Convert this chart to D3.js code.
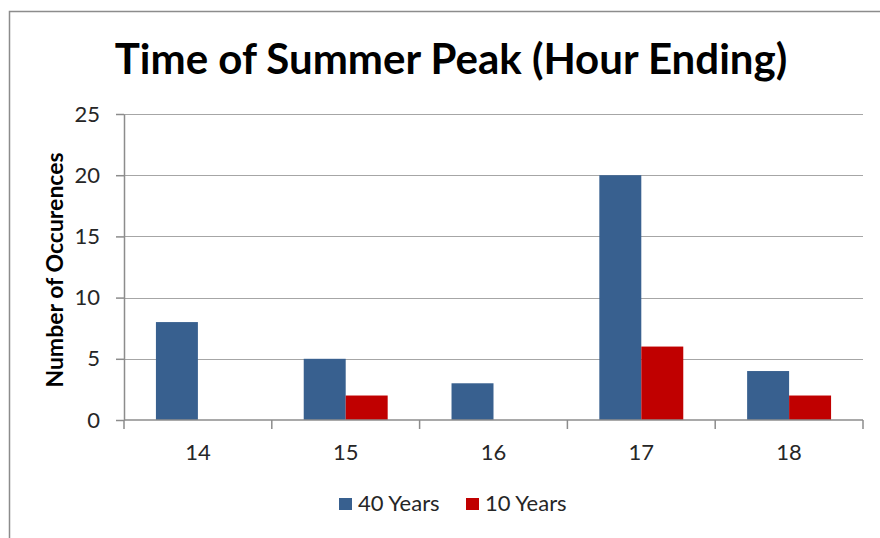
<!DOCTYPE html>
<html>
<head>
<meta charset="utf-8">
<script src="https://cdn.jsdelivr.net/npm/d3@7"></script>
<style>
  body { margin: 0; background: #fff; }
  svg { display: block; font-family: Lato, "Open Sans", sans-serif; }
</style>
</head>
<body>
<div id="chart"></div>
<script>
const CATEGORIES = ["14", "15", "16", "17", "18"]
const SERIES = ["40 Years", "10 Years"]
const YEARS_40 = [8, 5, 3, 20, 4]
const YEARS_10 = [0, 2, 0, 6, 2]
const Y_TICKS = [0, 5, 10, 15, 20, 25]
const COLORS = ["#38608f", "#c00000"]

const W = 880, H = 538
const margin = {top: 114, right: 17, bottom: 118, left: 124}
const width = W - margin.left - margin.right
const height = H - margin.top - margin.bottom

const data = CATEGORIES.map((c, i) => ({cat: c, values: [YEARS_40[i], YEARS_10[i]]}))

const svg = d3.select("#chart").append("svg")
    .attr("width", W)
    .attr("height", H)

// outer frame (cropped on right / bottom like the picture)
svg.append("path")
    .attr("d", "M9.5," + (H + 2) + "V11.5H" + (W + 2))
    .attr("fill", "none")
    .attr("stroke", "#8c8c8c")
    .attr("stroke-width", 1.5)

svg.append("text")
    .attr("x", 451)
    .attr("y", 74)
    .attr("text-anchor", "middle")
    .attr("font-size", 42)
    .attr("font-weight", "bold")
    .attr("fill", "#000")
    .text("Time of Summer Peak (Hour Ending)")

const g = svg.append("g")
    .attr("transform", "translate(" + margin.left + "," + margin.top + ")")

const x0 = d3.scaleBand()
    .domain(CATEGORIES)
    .range([0, width])
    .paddingInner(0.432)
    .paddingOuter(0.216)

const x1 = d3.scaleBand()
    .domain(SERIES)
    .range([0, x0.bandwidth()])

const y = d3.scaleLinear()
    .domain([0, 25])
    .range([height, 0])

// gridlines
g.append("g")
    .selectAll("line")
    .data(Y_TICKS.filter(d => d > 0))
    .enter()
    .append("line")
    .attr("x1", 0)
    .attr("x2", width)
    .attr("y1", d => Math.round(y(d)) + 0.5)
    .attr("y2", d => Math.round(y(d)) + 0.5)
    .attr("stroke", "#a6a6a6")
    .attr("stroke-width", 1.2)

// bars
g.selectAll(".group")
    .data(data)
    .enter()
    .append("g")
    .attr("transform", d => "translate(" + x0(d.cat) + ",0)")
    .selectAll("rect")
    .data(d => d.values.map((v, i) => ({key: SERIES[i], v: v, i: i})))
    .enter()
    .append("rect")
    .attr("x", d => x1(d.key))
    .attr("y", d => y(d.v))
    .attr("width", x1.bandwidth())
    .attr("height", d => height - y(d.v))
    .attr("fill", d => COLORS[d.i])

// y axis
const yAxis = g.append("g")
    .call(d3.axisLeft(y).tickValues(Y_TICKS).tickSize(8).tickSizeOuter(0).tickPadding(16))
yAxis.select(".domain").attr("stroke", "#8c8c8c").attr("stroke-width", 1.5)
yAxis.selectAll(".tick line").attr("stroke", "#8c8c8c").attr("stroke-width", 1.5)
yAxis.selectAll(".tick text")
    .attr("font-size", 22)
    .attr("font-family", "Lato, sans-serif")
    .attr("fill", "#262626")

// x axis with ticks at category boundaries
const xAxis = g.append("g")
    .attr("transform", "translate(0," + height + ")")
xAxis.append("line")
    .attr("x1", 0).attr("x2", width)
    .attr("stroke", "#8c8c8c").attr("stroke-width", 1.5)
xAxis.selectAll(".sep")
    .data(d3.range(CATEGORIES.length + 1))
    .enter()
    .append("line")
    .attr("x1", i => i * x0.step())
    .attr("x2", i => i * x0.step())
    .attr("y1", 0)
    .attr("y2", 9)
    .attr("stroke", "#8c8c8c")
    .attr("stroke-width", 1.5)
xAxis.selectAll(".lbl")
    .data(CATEGORIES)
    .enter()
    .append("text")
    .attr("x", d => x0(d) + x0.bandwidth() / 2)
    .attr("y", 40)
    .attr("text-anchor", "middle")
    .attr("font-size", 22)
    .attr("fill", "#262626")
    .text(d => d)

// y axis title
svg.append("text")
    .attr("transform", "translate(63,270) rotate(-90)")
    .attr("text-anchor", "middle")
    .attr("font-size", 23)
    .attr("font-weight", "bold")
    .attr("fill", "#000")
    .text("Number of Occurences")

// legend
const legend = svg.append("g")
const items = [{x: 339, i: 0}, {x: 466, i: 1}]
items.forEach(it => {
    legend.append("rect")
        .attr("x", it.x)
        .attr("y", 498)
        .attr("width", 13)
        .attr("height", 12)
        .attr("fill", COLORS[it.i])
    legend.append("text")
        .attr("x", it.x + 19)
        .attr("y", 511)
        .attr("font-size", 22)
        .attr("fill", "#262626")
        .text(SERIES[it.i])
})
</script>
</body>
</html>
